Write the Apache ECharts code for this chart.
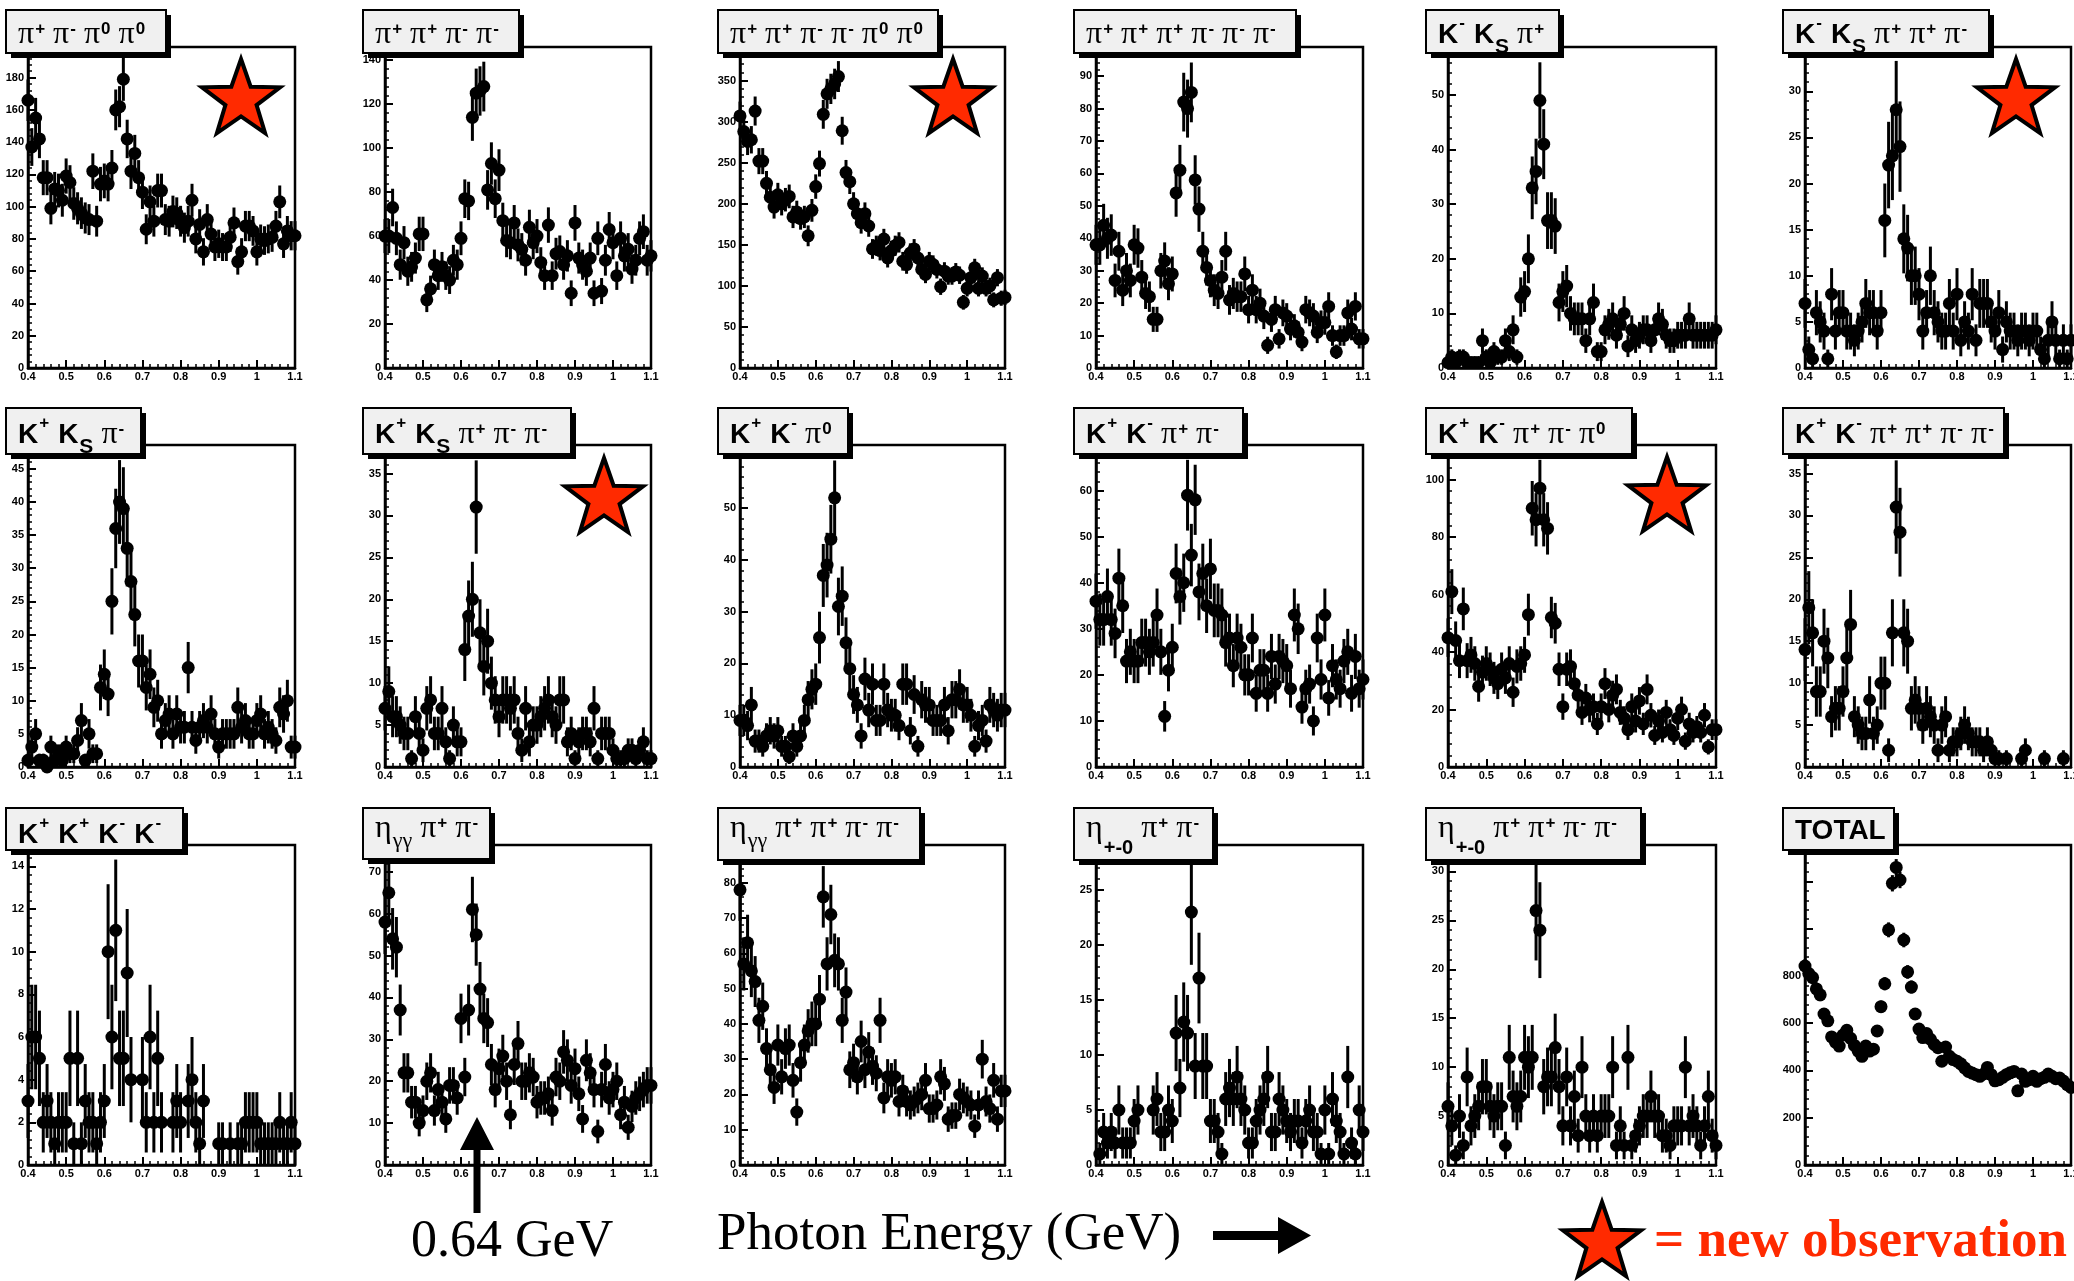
<!DOCTYPE html>
<html>
<head>
<meta charset="utf-8">
<script src="https://cdn.jsdelivr.net/npm/echarts@6/dist/echarts.min.js"></script>
<style>
html,body{margin:0;padding:0;background:#fff;}
#chart{width:2074px;height:1281px;}
</style>
</head>
<body>
<div id="chart"></div>
<script>
// ---------------- DATA ----------------
// photon energy bins (GeV)
const energies = [0.40,0.41,0.42,0.43,0.44,0.45,0.46,0.47,0.48,0.49,
 0.50,0.51,0.52,0.53,0.54,0.55,0.56,0.57,0.58,0.59,
 0.60,0.61,0.62,0.63,0.64,0.65,0.66,0.67,0.68,0.69,
 0.70,0.71,0.72,0.73,0.74,0.75,0.76,0.77,0.78,0.79,
 0.80,0.81,0.82,0.83,0.84,0.85,0.86,0.87,0.88,0.89,
 0.90,0.91,0.92,0.93,0.94,0.95,0.96,0.97,0.98,0.99,
 1.00,1.01,1.02,1.03,1.04,1.05,1.06,1.07,1.08,1.09,
 1.10];

const pipPimPi0Pi0 = [166,137,155,142,118,118,99,111,110,104,
 119,115,102,99,96,93,92,122,91,114,
 116,114,124,160,162,179,142,122,133,118,
 109,86,103,91,110,110,92,91,97,96,
 91,87,91,104,80,89,72,92,83,75,
 77,75,75,81,90,66,72,88,88,85,
 72,80,79,80,81,88,103,77,85,82,
 82];
const pipPipPimPim = [60,60,73,59,47,57,44,46,50,61,
 61,31,36,47,42,46,42,40,49,47,
 59,77,76,114,125,126,128,81,93,77,
 90,67,58,57,66,56,54,49,64,57,
 60,48,42,65,42,52,53,47,51,34,
 66,50,47,44,50,34,59,35,49,63,
 57,42,59,51,54,45,49,59,62,49,
 51];
const pipPipPimPimPi0Pi0 = [307,288,276,278,313,252,252,225,208,196,
 211,200,205,209,184,190,182,184,161,192,
 221,249,309,334,340,346,355,289,238,227,
 200,188,177,188,173,145,149,143,157,134,
 143,149,153,130,126,140,145,134,120,114,
 130,126,120,99,118,112,112,117,113,80,
 97,110,122,97,112,97,100,83,110,85,
 86];
const pi3Pi3 = [38,38,44,40,41,27,36,24,30,27,
 38,37,28,23,22,15,15,30,33,26,
 29,54,61,82,80,85,58,49,36,31,
 27,24,23,28,36,21,23,22,22,29,
 18,24,18,20,16,7,15,18,9,17,
 16,12,13,11,8,18,17,16,11,14,
 14,19,10,5,10,10,17,12,19,9,
 9];
const kmKsPip = [1,2,1,2,2,1,1,1,1,5,
 2,1,3,2,2,5,3,7,2,13,
 14,20,33,36,49,41,27,27,26,12,
 14,15,10,9,9,9,5,9,12,3,
 3,7,8,9,6,8,10,4,7,5,
 6,7,7,5,7,9,8,6,5,5,
 6,6,6,9,6,6,6,6,6,6,
 7];
const kmKsPipPipPim = [7,2,1,6,5,4,1,8,4,6,
 6,4,4,3,4,5,7,6,6,4,
 6,16,22,23,28,24,14,13,10,10,
 8,4,6,10,6,5,4,4,7,4,
 8,3,5,4,8,3,7,7,7,5,
 4,6,2,5,4,4,3,4,4,3,
 4,4,2,1,3,5,3,1,3,1,
 3];
const kpKsPim = [1,3,5,1,1,0,3,1,2,1,
 3,2,2,4,7,1,5,2,2,12,
 14,11,25,36,40,39,33,28,23,16,
 16,12,14,9,10,5,7,8,5,8,
 6,6,15,6,4,6,7,6,8,5,
 3,5,5,5,5,9,6,7,5,5,
 7,8,5,6,5,4,9,8,10,3,
 3];
const kpKsPipPimPim = [7,9,6,6,5,4,4,1,6,4,
 2,7,8,4,4,7,3,1,5,3,
 3,14,18,20,31,16,12,15,10,8,
 6,8,8,7,8,4,2,7,3,5,
 5,6,7,8,6,5,8,8,3,4,
 1,3,4,4,3,7,1,4,4,4,
 2,1,1,1,2,2,1,2,3,1,
 1];
const kpKmPi0 = [9,9,8,12,5,5,4,6,7,6,
 7,4,4,2,6,4,6,9,13,15,
 16,25,37,39,44,52,31,33,24,19,
 14,12,6,17,11,16,9,9,16,11,
 10,10,8,16,16,7,14,4,13,12,
 12,9,9,9,12,7,13,13,15,12,
 12,10,4,8,9,5,12,11,10,11,
 11];
const kpKmPipPim = [36,32,32,37,32,29,41,35,23,25,
 23,23,27,27,25,27,33,25,11,21,
 26,42,37,40,59,46,58,38,42,35,
 43,34,34,33,27,28,22,28,26,20,
 20,28,16,21,21,16,24,18,24,23,
 22,17,33,30,13,17,18,10,28,19,
 33,15,22,19,17,23,25,16,24,17,
 19];
const kpKmPipPimPi0 = [45,61,44,37,55,37,39,36,28,33,
 36,34,31,29,34,31,36,26,35,36,
 39,53,90,86,97,86,83,52,50,34,
 21,34,35,29,25,19,24,20,21,15,
 21,29,20,25,27,19,17,13,21,16,
 23,15,27,18,11,16,12,19,13,11,
 17,20,9,15,12,14,12,18,7,13,
 13];
const kpKmPipPipPimPim = [14,19,16,9,9,15,13,6,7,7,
 9,13,17,6,5,4,4,8,4,5,
 10,10,2,16,31,28,16,15,7,8,
 7,5,7,6,5,2,5,6,2,3,
 3,4,5,4,3,3,3,2,3,2,
 1,1,null,1,null,null,null,1,2,null,
 null,null,null,1,null,null,null,null,1,null,
 null];
const kpKpKmKm = [3,6,6,5,2,3,2,1,2,2,
 2,5,1,5,1,3,2,2,1,2,
 3,10,6,11,5,5,9,4,null,null,
 4,2,6,2,5,2,null,null,2,3,
 2,null,3,4,2,1,3,null,null,null,
 1,1,null,1,null,1,1,2,2,2,
 2,1,1,1,1,1,2,1,1,2,
 1];
const etaGGPipPim = [58,65,54,52,37,22,22,15,15,10,
 13,20,22,13,18,15,11,19,19,16,
 35,21,37,61,55,42,35,34,24,18,
 23,26,20,12,24,29,20,20,22,21,
 15,16,16,17,13,21,20,27,25,19,
 23,17,11,25,22,18,8,18,24,16,
 18,20,12,15,9,14,16,17,18,19,
 19];
const etaGGPipPipPimPim = [78,57,63,55,52,41,45,33,27,22,
 34,25,33,34,24,15,29,34,38,40,
 40,47,76,57,71,58,57,41,49,27,
 29,25,35,27,32,28,26,41,19,25,
 24,25,18,21,18,17,18,19,20,24,
 16,16,17,25,23,13,14,14,20,19,
 18,17,11,17,30,18,16,24,13,21,
 21];
const eta3PiPipPim = [null,1,3,2,3,2,5,2,2,2,
 4,5,null,null,null,5,6,3,3,5,
 4,12,7,13,12,23,9,17,9,9,
 4,4,3,1,6,7,6,8,6,5,
 2,2,4,5,6,8,3,3,6,5,
 4,3,4,4,2,4,5,3,3,1,
 5,1,6,4,3,1,8,2,1,5,
 3];
const eta3PiPipPipPimPim = [6,4,1,5,2,9,4,5,6,8,
 8,6,5,6,6,2,11,7,6,7,
 11,10,11,26,24,8,9,9,12,8,
 4,9,4,7,3,10,5,3,5,3,
 5,5,5,10,2,4,2,11,2,3,
 4,5,5,7,5,5,3,3,2,4,
 4,4,10,4,5,4,2,4,7,3,
 2];
const totalCounts = [842,810,793,745,720,639,610,542,520,503,
 550,570,536,506,482,460,503,482,490,567,
 670,767,995,1192,1259,1206,952,817,753,639,
 575,539,556,532,510,496,439,499,460,446,
 439,428,411,396,389,382,375,385,413,382,
 356,361,371,382,390,396,314,385,354,361,
 375,354,365,371,385,375,365,368,355,340,
 328];

// y axis range and major tick step for each panel (row-major)
const yAxisMax  = [199,146,391,99,58.8,34.8, 48.6,38.4,62.2,69.9,112,38.4, 15,76.4,90.7,29.1,32.7,1354];
const yAxisStep = [20,20,50,10,10,5, 5,5,10,10,20,5, 2,10,10,5,5,200];

// panel titles: [style, text]
const title01 = [['P','π'],['pu','+'],['P','π'],['pu','-'],['P','π'],['pu','0'],['P','π'],['pu','0']];
const title02 = [['P','π'],['pu','+'],['P','π'],['pu','+'],['P','π'],['pu','-'],['P','π'],['pu','-']];
const title03 = [['P','π'],['pu','+'],['P','π'],['pu','+'],['P','π'],['pu','-'],['P','π'],['pu','-'],['P','π'],['pu','0'],['P','π'],['pu','0']];
const title04 = [['P','π'],['pu','+'],['P','π'],['pu','+'],['P','π'],['pu','+'],['P','π'],['pu','-'],['P','π'],['pu','-'],['P','π'],['pu','-']];
const title05 = [['K','K'],['ku','-'],['K','K'],['kd','S'],['P','π'],['pu','+']];
const title06 = [['K','K'],['ku','-'],['K','K'],['kd','S'],['P','π'],['pu','+'],['P','π'],['pu','+'],['P','π'],['pu','-']];
const title07 = [['K','K'],['ku','+'],['K','K'],['kd','S'],['P','π'],['pu','-']];
const title08 = [['K','K'],['ku','+'],['K','K'],['kd','S'],['P','π'],['pu','+'],['P','π'],['pu','-'],['P','π'],['pu','-']];
const title09 = [['K','K'],['ku','+'],['K','K'],['ku','-'],['P','π'],['pu','0']];
const title10 = [['K','K'],['ku','+'],['K','K'],['ku','-'],['P','π'],['pu','+'],['P','π'],['pu','-']];
const title11 = [['K','K'],['ku','+'],['K','K'],['ku','-'],['P','π'],['pu','+'],['P','π'],['pu','-'],['P','π'],['pu','0']];
const title12 = [['K','K'],['ku','+'],['K','K'],['ku','-'],['P','π'],['pu','+'],['P','π'],['pu','+'],['P','π'],['pu','-'],['P','π'],['pu','-']];
const title13 = [['K','K'],['ku','+'],['K','K'],['ku','+'],['K','K'],['ku','-'],['K','K'],['ku','-']];
const title14 = [['P','η'],['gd','γγ'],['P','π'],['pu','+'],['P','π'],['pu','-']];
const title15 = [['P','η'],['gd','γγ'],['P','π'],['pu','+'],['P','π'],['pu','+'],['P','π'],['pu','-'],['P','π'],['pu','-']];
const title16 = [['P','η'],['ed','+-0'],['P','π'],['pu','+'],['P','π'],['pu','-']];
const title17 = [['P','η'],['ed','+-0'],['P','π'],['pu','+'],['P','π'],['pu','+'],['P','π'],['pu','-'],['P','π'],['pu','-']];
const title18 = [['K','TOTAL']];

const annotArrowLabel = '0.64 GeV';
const xAxisTitle = 'Photon Energy (GeV)';
const legendText = '= new observation';
// ---------------- END DATA ----------------

const seriesValues = [pipPimPi0Pi0, pipPipPimPim, pipPipPimPimPi0Pi0, pi3Pi3, kmKsPip, kmKsPipPipPim,
  kpKsPim, kpKsPipPimPim, kpKmPi0, kpKmPipPim, kpKmPipPimPi0, kpKmPipPipPimPim,
  kpKpKmKm, etaGGPipPim, etaGGPipPipPimPim, eta3PiPipPim, eta3PiPipPipPimPim, totalCounts];
const titles = [title01,title02,title03,title04,title05,title06,title07,title08,title09,
  title10,title11,title12,title13,title14,title15,title16,title17,title18];

// ---------------- LAYOUT ----------------
const colLeft  = [28, 385, 740, 1096, 1448, 1805];
const colRight = [295, 651, 1005, 1363, 1716, 2071];
const rowTop   = [47, 445, 845];
const rowBottom= [368, 767, 1165];
const titleBoxW = [160,156,220,222,133,206, 135,208,130,169,206,221, 177,127,202,139,215,111];
const titleBoxH = [43,43,43,43,43,43, 46,46,46,46,46,46, 42,51,52,52,52,42];
const titleBase = [35,35,35,35,35,35, 37,37,37,37,37,37, 37,31,31,31,31,33];

const KIND = {
  P:  {font:'32px "Liberation Serif"', size:32, dy:0, gap:8},
  K:  {font:'bold 28px "Liberation Sans"', size:28, dy:0, gap:9},
  pu: {font:'bold 17px "Liberation Sans"', size:17, dy:-10, gap:1},
  ku: {font:'bold 17px "Liberation Sans"', size:17, dy:-16, gap:1},
  kd: {font:'bold 21px "Liberation Sans"', size:21, dy:9, gap:1},
  gd: {font:'22px "Liberation Serif"', size:22, dy:10, gap:1},
  ed: {font:'bold 20px "Liberation Sans"', size:20, dy:16, gap:1}
};
const RED = '#ff2a00';
const labelFont = '"Liberation Sans Narrow","Liberation Sans",Arial,sans-serif';

const mctx = document.createElement('canvas').getContext('2d');
function textW(font, t) { mctx.font = font; return mctx.measureText(t).width; }

const grids = [], xAxes = [], yAxes = [], series = [], graphics = [];

for (let i = 0; i < 18; i++) {
  const r = Math.floor(i / 6), c = i % 6;
  grids.push({
    left: colLeft[c], top: rowTop[r],
    width: colRight[c] - colLeft[c], height: rowBottom[r] - rowTop[r],
    show: true, borderColor: '#000', borderWidth: 2.5, backgroundColor: 'transparent',
    containLabel: false, outerBoundsMode: 'none'
  });
  xAxes.push({
    gridIndex: i, type: 'value', min: 0.4, max: 1.1, interval: 0.1,
    axisLine: {show: true, onZero: false, lineStyle: {color: '#000', width: 2.5}},
    axisTick: {show: true, inside: true, length: 8, lineStyle: {color: '#000', width: 2}},
    minorTick: {show: true, splitNumber: 5, length: 4, lineStyle: {color: '#000', width: 1.5}},
    splitLine: {show: false}, minorSplitLine: {show: false},
    axisLabel: {show: true, margin: 3, fontSize: 11, fontWeight: 'bold', fontFamily: labelFont, color: '#000',
      formatter: v => String(Math.round(v * 10) / 10)}
  });
  const ymax = yAxisMax[i];
  yAxes.push({
    gridIndex: i, type: 'value', min: 0, max: ymax, interval: yAxisStep[i],
    axisLine: {show: true, onZero: false, lineStyle: {color: '#000', width: 2.5}},
    axisTick: {show: true, inside: true, length: 8, lineStyle: {color: '#000', width: 2}},
    minorTick: {show: true, splitNumber: 5, length: 4, lineStyle: {color: '#000', width: 1.5}},
    splitLine: {show: false}, minorSplitLine: {show: false},
    axisLabel: {show: true, margin: 4, fontSize: 11, fontWeight: 'bold', fontFamily: labelFont, color: '#000',
      showMaxLabel: false,
      formatter: v => (v >= 1000 ? '' : String(Math.round(v * 100) / 100))}
  });
  const vals = seriesValues[i];
  const pts = [], bars = [];
  for (let k = 0; k < energies.length; k++) {
    const v = vals[k];
    if (v === null || v === undefined) continue;
    pts.push([energies[k], v]);
    bars.push([energies[k], v, Math.sqrt(v)]);   // Poisson statistical error
  }
  series.push({
    type: 'custom', xAxisIndex: i, yAxisIndex: i, z: 2, silent: true,
    data: bars, encode: {x: 0, y: 1},
    renderItem: (function (ym) {
      return function (params, api) {
        const x = api.value(0), v = api.value(1), e = api.value(2);
        if (e <= 0) return null;
        const lo = api.coord([x, Math.max(0, v - e)]);
        const hi = api.coord([x, Math.min(ym, v + e)]);
        return {type: 'line', shape: {x1: lo[0], y1: lo[1], x2: hi[0], y2: hi[1]},
          style: {stroke: '#000', lineWidth: 3}};
      };
    })(ymax)
  });
  series.push({
    type: 'scatter', xAxisIndex: i, yAxisIndex: i, z: 3, silent: true,
    data: pts, symbol: 'circle', symbolSize: 13,
    itemStyle: {color: '#000', opacity: 1}
  });

  // title box
  const bx = colLeft[c] - 22, by = rowTop[r] - 37, bw = titleBoxW[i], bh = titleBoxH[i];
  graphics.push({type: 'rect', z: 100, silent: true, shape: {x: bx + 5, y: by + 5, width: bw, height: bh}, style: {fill: '#000'}});
  graphics.push({type: 'rect', z: 101, silent: true, shape: {x: bx, y: by, width: bw, height: bh}, style: {fill: '#f0f0f0', stroke: '#000', lineWidth: 2}});
  const base = by + titleBase[i];
  let tx = bx + 12;
  titles[i].forEach((seg, j) => {
    const kd = KIND[seg[0]];
    if (j > 0) tx += kd.gap;
    graphics.push({type: 'text', z: 102, silent: true, x: tx, y: base + kd.dy - 0.34 * kd.size,
      style: {text: seg[1], font: kd.font, fill: '#000', textAlign: 'left', textVerticalAlign: 'middle'}});
    tx += textW(kd.font, seg[1]);
  });
}

// stars marking new observations
function starPoly(cx, cy, R) {
  const pts = [];
  for (let k = 0; k < 10; k++) {
    const rad = (k % 2 === 0) ? R : R * 0.4;
    const a = -Math.PI / 2 + k * Math.PI / 5;
    pts.push([cx + rad * Math.cos(a), cy + rad * Math.sin(a)]);
  }
  return pts;
}
const starCenters = [[241, 100], [953, 100], [2016, 100], [604, 499], [1667, 498], [1602, 1243]];
starCenters.forEach(p => {
  graphics.push({type: 'polygon', z: 110, silent: true, shape: {points: starPoly(p[0], p[1], 41)},
    style: {fill: RED, stroke: '#000', lineWidth: 4, lineJoin: 'miter', miterLimit: 10}});
});

// bottom annotations
function addText(t, x, baseline, size, font, fill) {
  graphics.push({type: 'text', z: 110, silent: true, x: x, y: baseline - 0.34 * size,
    style: {text: t, font: font, fill: fill, textAlign: 'left', textVerticalAlign: 'middle'}});
}
addText(annotArrowLabel, 411, 1260, 52, '52px "Liberation Serif"', '#000');
addText(xAxisTitle, 717, 1253, 53, '53px "Liberation Serif"', '#000');
addText(legendText, 1654, 1260, 53, 'bold 53px "Liberation Serif"', RED);

// up arrow marking 0.64 GeV
graphics.push({type: 'polygon', z: 110, silent: true,
  shape: {points: [[473.5, 1213], [480.5, 1213], [480.5, 1150], [494, 1150], [477, 1117], [460, 1150], [473.5, 1150]]},
  style: {fill: '#000'}});
// right arrow after axis title
graphics.push({type: 'polygon', z: 110, silent: true,
  shape: {points: [[1213, 1231], [1278, 1231], [1278, 1217], [1311, 1235.5], [1278, 1254], [1278, 1240], [1213, 1240]]},
  style: {fill: '#000'}});

const chart = echarts.init(document.getElementById('chart'), null, {renderer: 'canvas', width: 2074, height: 1281, devicePixelRatio: 1});
chart.setOption({
  animation: false,
  backgroundColor: '#fff',
  grid: grids,
  xAxis: xAxes,
  yAxis: yAxes,
  series: series,
  graphic: {elements: graphics}
});
</script>
</body>
</html>
